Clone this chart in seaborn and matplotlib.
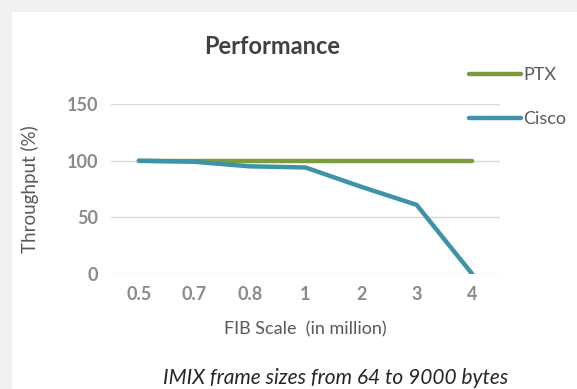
import matplotlib
matplotlib.use("Agg")
import matplotlib.pyplot as plt
import seaborn as sns
import pandas as pd
from matplotlib.patches import Rectangle
from matplotlib.lines import Line2D

fib_scale = ["0.5", "0.7", "0.8", "1", "2", "3", "4"]
ptx = [100, 100, 100, 100, 100, 100, 100]
cisco = [100, 99, 95, 94, 77, 61, 0]
series_names = ["PTX", "Cisco"]
colors = {"PTX": "#7b9c3c", "Cisco": "#3e93a8"}

rows = []
for name, vals in zip(series_names, [ptx, cisco]):
    for i, (lab, v) in enumerate(zip(fib_scale, vals)):
        rows.append({"pos": i, "label": lab, "value": v, "series": name})
df = pd.DataFrame(rows)

sns.set_theme(style="white")
plt.rcParams['font.family'] = ['Lato', 'DejaVu Sans']

fig = plt.figure(figsize=(5.77, 3.89), dpi=100)
fig.patch.set_facecolor("#f1f1f1")
fig.add_artist(Rectangle((12/577, 0), 1, 1 - 12/389, transform=fig.transFigure,
                         facecolor="white", edgecolor="none", zorder=0))

ax = fig.add_axes([111/577, 1 - 274/389, 389/577, 170/389])
ax.set_facecolor("none")
sns.lineplot(data=df, x="pos", y="value", hue="series", hue_order=series_names,
             palette=colors, linewidth=3.2, ax=ax, legend=False,
             solid_capstyle="round")

ax.set_xlim(-0.5, len(fib_scale) - 0.5)
ax.set_ylim(0, 150)
ax.set_yticks([0, 50, 100, 150])
ax.set_xticks(range(len(fib_scale)))
ax.set_xticklabels(fib_scale)
ax.grid(axis="y", color="#d9d9d9", linewidth=1)
ax.set_axisbelow(True)
for s in ax.spines.values():
    s.set_visible(False)
ax.tick_params(axis="both", length=0, labelsize=13, colors="#8a8a8a", pad=9)
for t in ax.get_xticklabels() + ax.get_yticklabels():
    t.set_fontweight("bold")
ax.set_xlabel("FIB Scale  (in million)", fontsize=13, color="#595959", labelpad=13)
ax.set_ylabel("Throughput (%)", fontsize=13.5, color="#595959", labelpad=20)

fig.text(272/577, 1 - 46/389, "Performance", ha="center", va="center",
         fontsize=17, fontweight="bold", color="#404040")
fig.text(336/577, 1 - 378/389, "IMIX frame sizes from 64 to 9000 bytes", ha="center",
         va="center", fontsize=15, fontstyle="italic", color="#262626")

handles = [Line2D([0], [0], color=colors[n], linewidth=3.2, solid_capstyle="round")
           for n in series_names]
leg = fig.legend(handles, series_names, loc="upper left",
                 bbox_to_anchor=(469/577, 1 - 67/389), frameon=False,
                 handlelength=2.9, handletextpad=0.1, labelspacing=1.55,
                 fontsize=13, borderaxespad=0, borderpad=0)
for t in leg.get_texts():
    t.set_color("#595959")

fig.savefig("out.png", dpi=100)
